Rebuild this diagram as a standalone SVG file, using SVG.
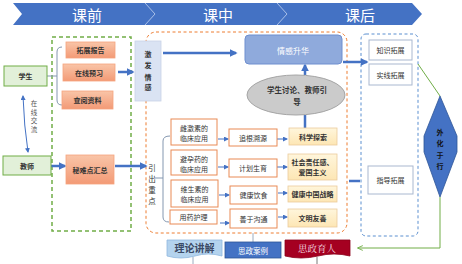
<svg xmlns="http://www.w3.org/2000/svg" width="462" height="264" viewBox="0 0 462 264">
<style>
text{font-family:"Noto Sans CJK SC","Noto Sans",sans-serif;text-anchor:middle;dominant-baseline:central;fill:#333;font-size:7px}
.b{font-weight:bold}
.or{stroke:#F4A47E;stroke-width:0.8}
.ow{fill:#fff;stroke:#E98A55;stroke-width:1}
.ye{stroke:#EBCB9C;stroke-width:0.8}
.bw{fill:#fff;stroke:#A9B8D0;stroke-width:1}
.thick{stroke:#4472C4;stroke-width:2.5;fill:none}
.thin{stroke:#4472C4;stroke-width:1;fill:none}
.brk{stroke:#8497B0;stroke-width:1;fill:none}
.vt{fill:#555;font-size:6.5px}
</style>
<defs>
<linearGradient id="og" x1="0" y1="0" x2="0" y2="1"><stop offset="0" stop-color="#F9C5A8"/><stop offset="1" stop-color="#F39A76"/></linearGradient>
<linearGradient id="yg" x1="0" y1="0" x2="0" y2="1"><stop offset="0" stop-color="#FFF6DC"/><stop offset="1" stop-color="#FDE6B4"/></linearGradient>
<marker id="mb" viewBox="0 0 10 10" refX="8" refY="5" markerWidth="8" markerHeight="8" markerUnits="userSpaceOnUse" orient="auto"><path d="M0,0 L10,5 L0,10 z" fill="#4472C4"/></marker>
<marker id="ms" viewBox="0 0 10 10" refX="8" refY="5" markerWidth="5" markerHeight="5" markerUnits="userSpaceOnUse" orient="auto-start-reverse"><path d="M0,0 L10,5 L0,10 z" fill="#4472C4"/></marker>
<marker id="mg" viewBox="0 0 10 10" refX="8" refY="5" markerWidth="6" markerHeight="6" markerUnits="userSpaceOnUse" orient="auto"><path d="M0,1 L9,5 L0,9" fill="none" stroke="#70AD47" stroke-width="1.5"/></marker>
</defs>

<g id="banner">
<path d="M13,3 L412,3 L422,14 L412,25 L13,25 L22,14 Z" fill="#4472C4"/>
<polyline points="145,3 155,14 145,25" fill="none" stroke="#A9C0E8" stroke-width="1"/>
<polyline points="277,3 287,14 277,25" fill="none" stroke="#A9C0E8" stroke-width="1"/>
<text x="87" y="14" style="fill:#fff;font-size:15px">课前</text>
<text x="218" y="14" style="fill:#fff;font-size:15px">课中</text>
<text x="360" y="14" style="fill:#fff;font-size:15px">课后</text>
</g>

<g id="containers">
<rect x="52" y="37" width="79" height="194" fill="none" stroke="#70AD47" stroke-width="1.5" stroke-dasharray="4,3"/>
<rect x="146" y="32" width="201" height="201" rx="10" fill="none" stroke="#ED7D31" stroke-width="1" stroke-dasharray="3,2.5"/>
<rect x="361" y="34" width="57" height="202" rx="5" fill="none" stroke="#5B8FD0" stroke-width="1" stroke-dasharray="3,2.5"/>
</g>

<g id="connectors">
<path d="M23,96 Q24,126 28,152" class="thin" marker-start="url(#ms)" marker-end="url(#ms)"/>
<path d="M47,76 L57,76 M62,47 Q57,47 57,52 L57,100 Q57,105 62,105" class="brk"/>
<path d="M118,72 L133,72" class="thick" marker-end="url(#mb)"/>
<path d="M51,166 L65,166" class="thick" marker-end="url(#mb)"/>
<path d="M115,166 L146,166" class="thick" marker-end="url(#mb)"/>
<path d="M163,53 L236,53" class="thick" marker-end="url(#mb)"/>
<path d="M305,75 L305,65" class="thick" marker-end="url(#mb)"/>
<path d="M305,115 L305,128" class="thick"/>
<path d="M343,62 L367,62" class="thick" marker-end="url(#mb)"/>
<path d="M349,181 L360,181" class="thick"/>
<path d="M155,178 L163,178 M170,136 Q163,136 163,141 L163,217 Q163,222 169,222" class="brk"/>
<path d="M218,139 L228,139" class="thin" marker-end="url(#ms)"/>
<path d="M218,167 L228,167" class="thin" marker-end="url(#ms)"/>
<path d="M219,195 L229,195" class="thin" marker-end="url(#ms)"/>
<path d="M220,223 L229,223" class="thin" marker-end="url(#ms)"/>
<path d="M277,139 L287,139" class="thin" marker-end="url(#ms)"/>
<path d="M277,167 L287,167" class="thin" marker-end="url(#ms)"/>
<path d="M278,193 L287,193" class="thin" marker-end="url(#ms)"/>
<path d="M278,217 L287,217" class="thin" marker-end="url(#ms)"/>
<path d="M418,64 L440,96" fill="none" stroke="#70AD47" stroke-width="1"/>
<path d="M440,197 L440,248 L358,248" fill="none" stroke="#70AD47" stroke-width="1" marker-end="url(#mg)"/>
<path d="M253,233 L253,242" fill="none" stroke="#8497B0" stroke-width="0.8"/>
<path d="M193,257 L193,264" fill="none" stroke="#8497B0" stroke-width="0.8"/>
<path d="M317,257 L317,264" fill="none" stroke="#555" stroke-width="0.8"/>
<text x="34" y="103" class="vt">在</text><text x="34" y="111.5" class="vt">线</text><text x="34" y="120" class="vt">交</text><text x="34" y="128.5" class="vt">流</text>
</g>

<g id="n-student"><rect x="4" y="66" width="43" height="20" fill="#E2F0D9" stroke="#70AD47" stroke-width="1"/><text x="25.5" y="76" class="b">学生</text></g>
<g id="n-teacher"><rect x="3" y="156" width="48" height="19" fill="#E2F0D9" stroke="#70AD47" stroke-width="1"/><text x="27" y="165.5" class="b">教师</text></g>

<g id="n-tuozhan"><rect x="66" y="42" width="49" height="16" fill="url(#og)" class="or"/><text x="90.5" y="50" class="b">拓展报告</text></g>
<g id="n-yuxi"><rect x="63" y="64" width="52" height="17" fill="url(#og)" class="or"/><text x="89" y="72.5" class="b">在线预习</text></g>
<g id="n-chayue"><rect x="62" y="91" width="51" height="18" fill="url(#og)" class="or"/><text x="87.5" y="100" class="b">查阅资料</text></g>
<g id="n-huizong"><rect x="66" y="155" width="48" height="29" fill="url(#og)" class="or"/><text x="90" y="169.5" class="b">秘难点汇总</text></g>

<g id="n-jifa"><rect x="135" y="41" width="26" height="60" fill="#DAE3F3" stroke="#C9D3E6" stroke-width="0.8"/>
<text x="148" y="54" class="b">激</text><text x="148" y="65" class="b">发</text><text x="148" y="77" class="b">情</text><text x="148" y="87" class="b">感</text></g>

<g id="n-yinchu"><text x="152" y="167" style="font-size:7.5px">引</text><text x="152" y="178" style="font-size:7.5px">出</text><text x="152" y="189" style="font-size:7.5px">重</text><text x="152" y="200" style="font-size:7.5px">点</text></g>

<g id="n-shenghua"><rect x="245" y="35" width="97" height="29" rx="4" fill="#8FAADC" stroke="#6F8FCF" stroke-width="1"/><text x="293" y="50" style="fill:#fff;font-size:8px">情感升华</text></g>
<g id="n-taolun"><ellipse cx="296" cy="95" rx="49" ry="20" fill="#CBCBCB" stroke="#A5A5A5" stroke-width="1"/><text x="297" y="89" class="b" style="font-size:7.5px">学生讨论、教师引</text><text x="297" y="101" class="b" style="font-size:7.5px">导</text></g>

<g id="n-c1"><rect x="171" y="119" width="46" height="26" class="ow"/><text x="194" y="128">雌激素的</text><text x="194" y="138">临床应用</text></g>
<g id="n-c2"><rect x="171" y="150" width="46" height="25" class="ow"/><text x="194" y="158.5">避孕药的</text><text x="194" y="168.5">临床应用</text></g>
<g id="n-c3"><rect x="171" y="180" width="47" height="27" class="ow"/><text x="194.5" y="189">维生素的</text><text x="194.5" y="199">临床应用</text></g>
<g id="n-c4"><rect x="170" y="210" width="47" height="14" class="ow"/><text x="193.5" y="217">用药护理</text></g>

<g id="n-m1"><rect x="229" y="129" width="48" height="17" class="ow"/><text x="253" y="137.5">追根溯源</text></g>
<g id="n-m2"><rect x="229" y="159" width="48" height="18" class="ow"/><text x="253" y="168">计划生育</text></g>
<g id="n-m3"><rect x="230" y="186" width="47" height="18" class="ow"/><text x="253.5" y="195">健康饮食</text></g>
<g id="n-m4"><rect x="230" y="209" width="47" height="19" class="ow"/><text x="253.5" y="218.5">善于沟通</text></g>

<g id="n-r1"><rect x="289" y="128" width="48" height="17" fill="url(#yg)" class="ye"/><text x="313" y="136.5" class="b">科学探索</text></g>
<g id="n-r2"><rect x="288" y="154" width="49" height="26" fill="url(#yg)" class="ye"/><text x="312.5" y="162" class="b">社会责任感、</text><text x="312.5" y="172" class="b">爱国主义</text></g>
<g id="n-r3"><rect x="288" y="186" width="49" height="16" fill="url(#yg)" class="ye"/><text x="312.5" y="194" class="b">健康中国战略</text></g>
<g id="n-r4"><rect x="288" y="209" width="49" height="18" fill="url(#yg)" class="ye"/><text x="312.5" y="218" class="b">文明友善</text></g>

<g id="n-zhishi"><rect x="369" y="40" width="43" height="20" class="bw"/><text x="390.5" y="50">知识拓展</text></g>
<g id="n-shijian"><rect x="369" y="64" width="43" height="21" class="bw"/><text x="390.5" y="74.5">实线拓展</text></g>
<g id="n-zhidao"><rect x="368" y="166" width="45" height="28" class="bw"/><text x="390.5" y="180">指导拓展</text></g>

<g id="n-waihua"><polygon points="440,96 457,136 457,152 440,197 424,152 424,136" fill="#4472C4" stroke="#2F5597" stroke-width="0.8"/>
<text x="440" y="132" class="b" style="fill:#111">外</text><text x="440" y="143" class="b" style="fill:#111">化</text><text x="440" y="155" class="b" style="fill:#111">于</text><text x="440" y="166" class="b" style="fill:#111">行</text></g>

<g id="n-lilun"><path d="M167,240 L222,240 L222,256 Q208,252 195,256 Q181,260 167,256 Z" fill="#B4D3EE" stroke="#8FB8DE" stroke-width="0.8"/><text x="194.5" y="247.5" class="b" style="font-size:10px;fill:#3B4A66">理论讲解</text></g>
<g id="n-anli"><rect x="225" y="242" width="56" height="16" fill="#4472C4" stroke="#2F5597" stroke-width="0.8"/><text x="253" y="250.5" style="fill:#fff;font-size:7.5px">思政案例</text></g>
<g id="n-yuren"><path d="M285,240 L350,240 L350,256 Q334,252 318,256 Q301,260 285,256 Z" fill="#A50021" stroke="#8A001B" stroke-width="0.8"/><text x="317" y="247.5" style="fill:#F4DDE0;font-size:9.5px;font-family:'Noto Serif CJK SC','Noto Sans CJK SC',serif">思政育人</text></g>
</svg>
